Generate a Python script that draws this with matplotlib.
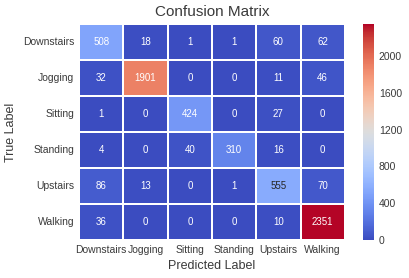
import numpy as np
import matplotlib
matplotlib.use("Agg")
import matplotlib.pyplot as plt
import seaborn as sns

labels = ["Downstairs", "Jogging", "Sitting", "Standing", "Upstairs", "Walking"]
cm = np.array([
    [508, 18, 1, 1, 60, 62],
    [32, 1901, 0, 0, 11, 46],
    [1, 0, 424, 0, 27, 0],
    [4, 0, 40, 310, 16, 0],
    [86, 13, 0, 1, 555, 70],
    [36, 0, 0, 0, 10, 2351],
])

sns.set_style("white")
plt.rcParams['font.family'] = ['Liberation Sans', 'DejaVu Sans']
txt = '#3a3a3a'
plt.rcParams['text.color'] = txt
plt.rcParams['axes.labelcolor'] = txt
plt.rcParams['xtick.color'] = txt
plt.rcParams['ytick.color'] = txt

fig = plt.figure(figsize=(4.1, 2.78), dpi=100)
ax = fig.add_axes([0.193, 0.137, 0.648, 0.777])
cax = fig.add_axes([0.885, 0.137, 0.027, 0.777])

sns.heatmap(cm, annot=True, fmt="d", cmap="coolwarm", linewidths=1.3, linecolor="white",
            xticklabels=labels, yticklabels=labels, ax=ax, cbar_ax=cax,
            annot_kws={"size": 7})

# annotation colours as in the reference
for t in ax.texts:
    t.set_color('#262626' if t.get_text() == '555' else 'white')

ax.set_title("Confusion Matrix", fontsize=11)
ax.set_xlabel("Predicted Label", fontsize=9)
ax.set_ylabel("True Label", fontsize=9)
ax.tick_params(axis='both', length=0, labelsize=7.5)
plt.setp(ax.get_yticklabels(), rotation=0)
plt.setp(ax.get_xticklabels(), rotation=0)

cax.set_yticks([0, 400, 800, 1200, 1600, 2000])
cax.tick_params(length=0, labelsize=7.5)
cax.set_frame_on(False)

fig.savefig("out.png", dpi=100)
